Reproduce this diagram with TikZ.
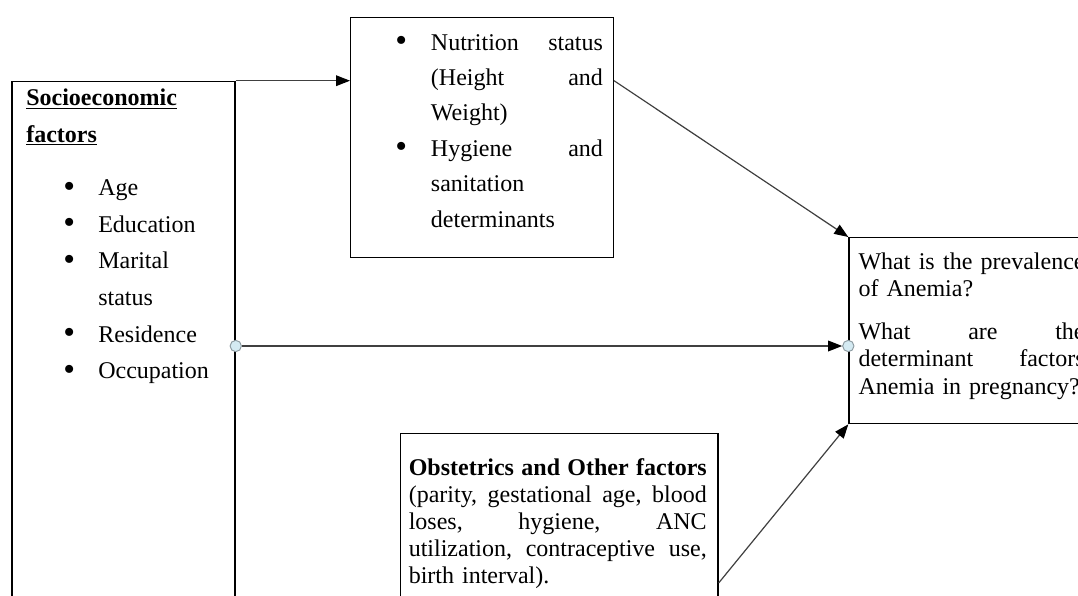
\documentclass[tikz,border=0pt]{standalone}
\usepackage{fontspec}
\setmainfont{Liberation Serif}
\usetikzlibrary{arrows.meta}
\newdimen\px \px=0.75pt
\newcommand\jl[2]{\leavevmode\hbox to #1\px{#2}}
\newcommand\bul{\raisebox{-1.5\px}{\scalebox{1.4}{\textbullet}}}
\definecolor{conncol}{HTML}{404040}
\definecolor{dotfill}{HTML}{D4EAF2}
\definecolor{dotdraw}{HTML}{8C9AA0}
\begin{document}
\begin{tikzpicture}[x=0.75pt,y=-0.75pt,
  box/.style={draw=black,line width=1pt,inner sep=0pt,anchor=north west},
  txt/.style={inner sep=0pt,anchor=base west,align=left,text=black},
  conn/.style={draw=conncol,line width=0.9pt,-{Triangle[length=10.5pt,width=8pt,color=black]}},
  dotc/.style={circle,draw=dotdraw,fill=dotfill,line width=0.7pt,minimum size=8.5pt,inner sep=0pt}]
\useasboundingbox (0,0) rectangle (1078,596);
\clip (0,0) rectangle (1078,596);
\fill[white] (0,0) rectangle (1078,596);
% boxes
\node[box,line width=1.3pt,minimum width=223\px,minimum height=560\px] (soc) at (11,80.7) {};
\node[box,minimum width=262.7\px,minimum height=240\px] (nut) at (350,16.7) {};
\node[box,minimum width=262\px,minimum height=186\px] (res) at (848.3,237) {};
\node[box,minimum width=317.3\px,minimum height=207\px] (obs) at (400,433) {};
% texts
\node[txt,text width=205\px,font=\fontsize{18}{27.45}\selectfont] (soctext) at (26,105.7)
{\underline{\textbf{Socioeconomic}}\\
 \underline{\textbf{factors}}\\[16.7\px]
 \hspace*{37\px}\makebox[35\px][l]{\bul}Age\\
 \hspace*{37\px}\makebox[35\px][l]{\bul}Education\\
 \hspace*{37\px}\makebox[35\px][l]{\bul}Marital\\
 \hspace*{72\px}status\\
 \hspace*{37\px}\makebox[35\px][l]{\bul}Residence\\
 \hspace*{37\px}\makebox[35\px][l]{\bul}Occupation};
\node[txt,text width=215\px,font=\fontsize{18}{26.6}\selectfont] (nuttext) at (395,50)
{\makebox[35.7\px][l]{\bul}\jl{172}{Nutrition\hfill status}\\
 \hspace*{35.7\px}\jl{172}{(Height\hfill and}\\
 \hspace*{35.7\px}Weight)\\
 \makebox[35.7\px][l]{\bul}\jl{172}{Hygiene\hfill and}\\
 \hspace*{35.7\px}sanitation\\
 \hspace*{35.7\px}determinants};
\node[txt,text width=240\px,font=\fontsize{18}{20.5}\selectfont] (restext) at (858.3,269.3)
{\jl{226}{What\hfill is\hfill the\hfill prevalence}\\
 of Anemia?\\[15.5\px]
 \jl{226}{What\hfill are\hfill the}\\
 \jl{226}{determinant\hfill factors}\\
 Anemia in pregnancy?};
\node[txt,text width=305\px,font=\fontsize{18}{20.25}\selectfont] (obstext) at (408.5,475)
{\jl{298}{\textbf{Obstetrics}\hfill\textbf{and}\hfill\textbf{Other}\hfill\textbf{factors}}\\
 \jl{298}{(parity,\hfill gestational\hfill age,\hfill blood}\\
 \jl{298}{loses,\hfill hygiene,\hfill ANC}\\
 \jl{298}{utilization,\hfill contraceptive\hfill use,}\\
 birth interval).};
% connectors
\coordinate (midy) at (0,346);
\coordinate (lowy) at (0,583);
\draw[conn] (soc.north east) -- (soc.north east -| nut.west);
\draw[conn] (nut.east |- soc.north east) -- (res.north west);
\node[dotc] (c1) at (soc.east |- midy) {};
\node[dotc] (c2) at (res.west |- midy) {};
\draw[conn] (c1) -- (c2);
\draw[conn] (obs.east |- lowy) -- (res.south west);
\end{tikzpicture}
\end{document}
